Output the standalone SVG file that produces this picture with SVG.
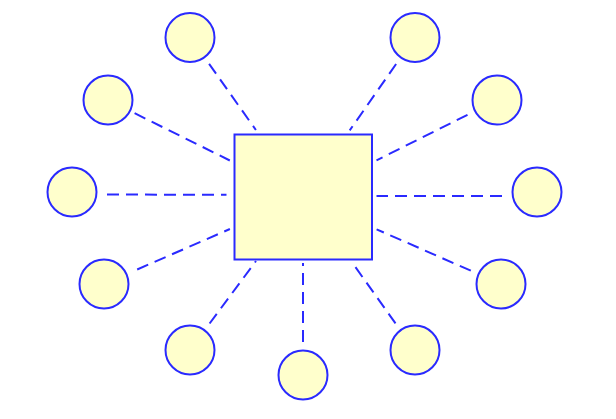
<svg xmlns="http://www.w3.org/2000/svg" width="616" height="419" viewBox="0 0 616 419">
<style>
.n{fill:#ffffcc;stroke:#2a2aff;stroke-width:2}
.e{stroke:#2a2aff;stroke-width:2;stroke-dasharray:12,7;fill:none}
</style>
<rect width="616" height="419" fill="#fff"/>
<g id="connectors">
<line class="e" x1="209.1" y1="63.9" x2="255.9" y2="130"/>
<line class="e" x1="396.1" y1="64" x2="349.7" y2="130.4"/>
<line class="e" x1="134.6" y1="113.2" x2="229.8" y2="160.5"/>
<line class="e" x1="467.5" y1="114.8" x2="376.5" y2="160.3"/>
<line class="e" x1="107" y1="194.5" x2="226.5" y2="194.8"/>
<line class="e" x1="502" y1="196" x2="376.5" y2="196"/>
<line class="e" x1="137.2" y1="269.5" x2="229.9" y2="229"/>
<line class="e" x1="470.8" y1="270.7" x2="376.6" y2="229.3"/>
<line class="e" x1="209.6" y1="323.5" x2="256" y2="261"/>
<line class="e" x1="395.5" y1="323.4" x2="351.8" y2="262"/>
<line class="e" x1="303" y1="342" x2="303" y2="263"/>
</g>
<g id="center"><rect class="n" x="234.5" y="134.5" width="137.5" height="125"/></g>
<g id="c1"><circle class="n" cx="190" cy="37.5" r="24.5"/></g>
<g id="c2"><circle class="n" cx="415" cy="37.5" r="24.5"/></g>
<g id="c3"><circle class="n" cx="108" cy="100" r="24.5"/></g>
<g id="c4"><circle class="n" cx="497" cy="100" r="24.5"/></g>
<g id="c5"><circle class="n" cx="72" cy="192" r="24.5"/></g>
<g id="c6"><circle class="n" cx="537" cy="192" r="24.5"/></g>
<g id="c7"><circle class="n" cx="104" cy="284" r="24.5"/></g>
<g id="c8"><circle class="n" cx="501" cy="284" r="24.5"/></g>
<g id="c9"><circle class="n" cx="190" cy="350" r="24.5"/></g>
<g id="c10"><circle class="n" cx="415" cy="350" r="24.5"/></g>
<g id="c11"><circle class="n" cx="303" cy="375" r="24.5"/></g>
</svg>
